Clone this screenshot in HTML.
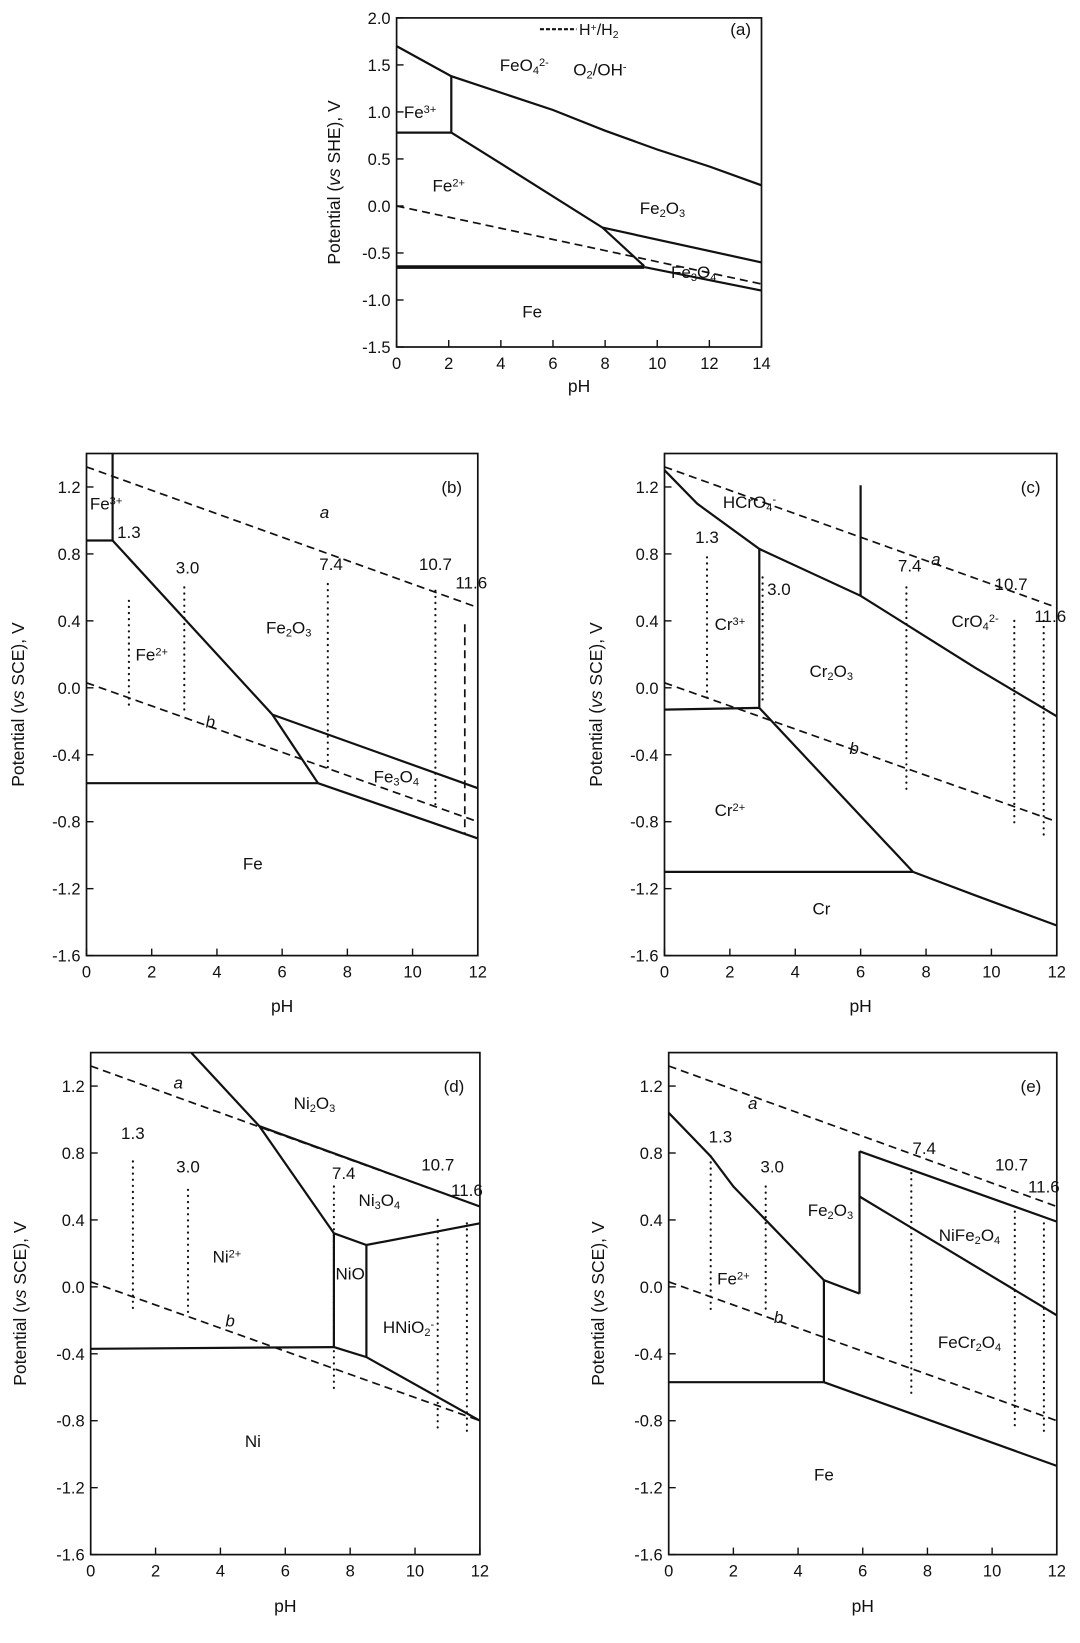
<!DOCTYPE html>
<html><head><meta charset="utf-8"><style>
html,body{margin:0;padding:0;background:#fff;}
svg{display:block;font-family:"Liberation Sans",Arial,sans-serif;}
</style></head><body>
<svg id="fig" width="1080" height="1643" viewBox="0 0 1080 1643" xmlns="http://www.w3.org/2000/svg"></svg>
<script>
// ---------- panel (a) data ----------
const aSolid = [
  [[0,1.7],[2.1,1.38],[6,1.02],[8,0.8],[10,0.6],[12,0.42],[14,0.22]],
  [[2.1,1.38],[2.1,0.78]],
  [[0,0.78],[2.1,0.78]],
  [[2.1,0.78],[4,0.45],[7.9,-0.23],[9.5,-0.64]],
  [[7.9,-0.23],[14,-0.6]],
  [[9.5,-0.65],[14,-0.9]]
];
const aThick = [[[0,-0.65],[9.5,-0.65]]];
const aDashed = [[[0,0],[14,-0.83]]];
const aLabels = [["FeO_{4}^{2-}",4.9,1.5],["O_{2}/OH^{-}",7.8,1.45],["(a)",13.2,1.88],["Fe^{3+}",0.9,1.0],
  ["Fe^{2+}",2.0,0.22],["Fe_{2}O_{3}",10.2,-0.02],["Fe_{3}O_{4}",11.4,-0.7],["Fe",5.2,-1.12]];
// ---------- panel (b) data ----------
const bSolid = [
  [[0.8,1.4],[0.8,0.88]],[[0,0.88],[0.8,0.88]],
  [[0.8,0.88],[5.7,-0.16],[7.1,-0.57]],[[5.7,-0.16],[12,-0.6]],
  [[0,-0.57],[7.1,-0.57]],[[7.1,-0.57],[12,-0.9]]
];
const bDashed = [[[0,1.32],[12,0.48]],[[0,0.03],[12,-0.8]],[[11.6,0.38],[11.6,-0.87]]];
const bDotted = [[[1.3,0.52],[1.3,-0.12]],[[3.0,0.6],[3.0,-0.15]],[[7.4,0.62],[7.4,-0.5]],[[10.7,0.58],[10.7,-0.7]]];
const bLabels = [["Fe^{3+}",0.6,1.1],["1.3",1.3,0.93],["3.0",3.1,0.72],["7.4",7.5,0.74],["10.7",10.7,0.74],["11.6",11.8,0.63],
  ["a",7.3,1.05],["b",3.8,-0.2],["(b)",11.2,1.2],["Fe_{2}O_{3}",6.2,0.36],["Fe^{2+}",2.0,0.2],["Fe_{3}O_{4}",9.5,-0.53],["Fe",5.1,-1.05]];
// ---------- panel (c) data ----------
const cSolid = [
  [[0,1.3],[1,1.1],[2.9,0.83],[6,0.55],[9.5,0.12],[12,-0.17]],
  [[6,0.55],[6,1.21]],[[2.9,0.83],[2.9,-0.12]],
  [[0,-0.13],[2.9,-0.12]],[[2.9,-0.12],[7.6,-1.1]],
  [[0,-1.1],[7.6,-1.1]],[[7.6,-1.1],[9.5,-1.24],[12,-1.42]]
];
const cDashed = [[[0,1.32],[12,0.48]],[[0,0.03],[12,-0.8]]];
const cDotted = [[[1.3,0.78],[1.3,-0.08]],[[3.0,0.66],[3.0,-0.1]],[[7.4,0.6],[7.4,-0.62]],[[10.7,0.4],[10.7,-0.83]],[[11.6,0.4],[11.6,-0.9]]];
const cLabels = [["HCrO_{4}^{-}",2.6,1.11],["CrO_{4}^{2-}",9.5,0.4],["Cr^{3+}",2.0,0.38],["Cr_{2}O_{3}",5.1,0.1],["Cr^{2+}",2.0,-0.73],
  ["Cr",4.8,-1.32],["1.3",1.3,0.9],["3.0",3.5,0.59],["7.4",7.5,0.73],["10.7",10.6,0.62],["11.6",11.8,0.43],["a",8.3,0.77],["b",5.8,-0.36],["(c)",11.2,1.2]];
// ---------- panel (d) data ----------
const dSolid = [
  [[3.1,1.4],[5.2,0.96],[7.5,0.32]],[[5.2,0.96],[12,0.48]],
  [[7.5,0.32],[8.5,0.25],[12,0.38]],[[7.5,0.32],[7.5,-0.36]],[[8.5,0.25],[8.5,-0.42]],
  [[0,-0.37],[7.5,-0.36]],[[7.5,-0.36],[8.5,-0.42],[12,-0.8]]
];
const dDashed = [[[0,1.32],[12,0.48]],[[0,0.03],[12,-0.8]]];
const dDotted = [[[1.3,0.75],[1.3,-0.13]],[[3.0,0.58],[3.0,-0.15]],[[7.5,0.6],[7.5,-0.62]],[[10.7,0.4],[10.7,-0.85]],[[11.6,0.38],[11.6,-0.88]]];
const dLabels = [["Ni_{2}O_{3}",6.9,1.1],["Ni_{3}O_{4}",8.9,0.52],["Ni^{2+}",4.2,0.18],["NiO",8.0,0.08],["HNiO_{2}^{-}",9.8,-0.24],
  ["Ni",5.0,-0.92],["1.3",1.3,0.92],["3.0",3.0,0.72],["7.4",7.8,0.68],["10.7",10.7,0.73],["11.6",11.6,0.58],["a",2.7,1.22],["b",4.3,-0.2],["(d)",11.2,1.2]];
// ---------- panel (e) data ----------
const eSolid = [
  [[0,1.04],[1.3,0.78],[2,0.6],[4.8,0.04],[5.9,-0.04]],
  [[4.8,0.04],[4.8,-0.57]],[[5.9,-0.04],[5.9,0.81]],
  [[5.9,0.81],[12,0.39]],[[5.9,0.54],[12,-0.17]],
  [[0,-0.57],[4.8,-0.57]],[[4.8,-0.57],[12,-1.07]]
];
const eDashed = [[[0,1.32],[12,0.48]],[[0,0.03],[12,-0.8]]];
const eDotted = [[[1.3,0.78],[1.3,-0.14]],[[3.0,0.6],[3.0,-0.14]],[[7.5,0.68],[7.5,-0.64]],[[10.7,0.45],[10.7,-0.84]],[[11.6,0.38],[11.6,-0.88]]];
const eLabels = [["Fe_{2}O_{3}",5.0,0.46],["NiFe_{2}O_{4}",9.3,0.31],["Fe^{2+}",2.0,0.05],["FeCr_{2}O_{4}",9.3,-0.33],["Fe",4.8,-1.12],
  ["1.3",1.6,0.9],["3.0",3.2,0.72],["7.4",7.9,0.83],["10.7",10.6,0.73],["11.6",11.6,0.6],["a",2.6,1.1],["b",3.4,-0.18],["(e)",11.2,1.2]];

const NS = "http://www.w3.org/2000/svg";
const svg = document.getElementById('fig');
function mk(tag, attrs, parent){
  const e = document.createElementNS(NS, tag);
  for (const k in attrs) e.setAttribute(k, attrs[k]);
  (parent||svg).appendChild(e);
  return e;
}
function richText(g, str, x, y, size, anchor){
  const t = mk('text', {x:x, y:y, 'font-size':size, 'text-anchor':anchor||'middle', fill:'#111'}, g);
  
  
  const re = /([_^])\{([^}]*)\}|([^_^]+)/g; let m;
  while ((m = re.exec(str))){
    const ts = document.createElementNS(NS, 'tspan');
    if (m[3]) { ts.textContent = m[3]; }
    else {
      ts.textContent = m[2];
      ts.setAttribute('font-size', size*0.65);
      ts.setAttribute('baseline-shift', m[1]==='_' ? '-30%' : '45%');
    }
    if (str === 'a' || str === 'b') t.setAttribute('font-style', 'italic');
    t.appendChild(ts);
  }
  return t;
}

const panels = [
  {id:'a', L:396.6, T:17.9, R:761.5, B:347, x0:0, x1:14, y0:-1.5, y1:2.0, xstep:2, ytk:[-1.5,-1.0,-0.5,0,0.5,1.0,1.5,2.0], ref:'SHE',
   solid:aSolid, thick:aThick, dashed:aDashed, dotted:[], labels:aLabels, ytitleX:340, xtitleY:392},
  {id:'b', L:86.5, T:453.5, R:477.8, B:955.6, x0:0, x1:12, y0:-1.6, y1:1.4, xstep:2, ytk:[-1.6,-1.2,-0.8,-0.4,0,0.4,0.8,1.2], ref:'SCE',
   solid:bSolid, thick:[], dashed:bDashed, dotted:bDotted, labels:bLabels, ytitleX:24, xtitleY:1012},
  {id:'c', L:664.5, T:453.5, R:1056.8, B:955.6, x0:0, x1:12, y0:-1.6, y1:1.4, xstep:2, ytk:[-1.6,-1.2,-0.8,-0.4,0,0.4,0.8,1.2], ref:'SCE',
   solid:cSolid, thick:[], dashed:cDashed, dotted:cDotted, labels:cLabels, ytitleX:602, xtitleY:1012},
  {id:'d', L:90.7, T:1052.6, R:479.9, B:1554.6, x0:0, x1:12, y0:-1.6, y1:1.4, xstep:2, ytk:[-1.6,-1.2,-0.8,-0.4,0,0.4,0.8,1.2], ref:'SCE',
   solid:dSolid, thick:[], dashed:dDashed, dotted:dDotted, labels:dLabels, ytitleX:26, xtitleY:1612},
  {id:'e', L:668.7, T:1052.6, R:1056.8, B:1554.6, x0:0, x1:12, y0:-1.6, y1:1.4, xstep:2, ytk:[-1.6,-1.2,-0.8,-0.4,0,0.4,0.8,1.2], ref:'SCE',
   solid:eSolid, thick:[], dashed:eDashed, dotted:eDotted, labels:eLabels, ytitleX:604, xtitleY:1612}
];

panels.forEach(p => {
  const sx = v => p.L + (v - p.x0) / (p.x1 - p.x0) * (p.R - p.L);
  const sy = v => p.B - (v - p.y0) / (p.y1 - p.y0) * (p.B - p.T);
  const g = mk('g', {});
  
  
  const pts = arr => arr.map(q => sx(q[0]).toFixed(1) + ',' + sy(q[1]).toFixed(1)).join(' ');
  const drawSet = (set, style, nm) => set.forEach(line => {
    const pl = mk('polyline', Object.assign({points: pts(line), fill:'none', stroke:'#111'}, style), g);
    
    
  });
  drawSet(p.dotted, {'stroke-width':2.2, 'stroke-dasharray':'0.1,6', 'stroke-linecap':'round'}, 'ph-marker-line');
  drawSet(p.dashed, {'stroke-width':1.7, 'stroke-dasharray':'8,5'}, 'water-stability-line');
  drawSet(p.solid, {'stroke-width':2.2}, 'phase-boundary');
  drawSet(p.thick, {'stroke-width':3.6}, 'phase-boundary');
  const fr = mk('rect', {x:p.L, y:p.T, width:p.R-p.L, height:p.B-p.T, fill:'none', stroke:'#111', 'stroke-width':1.7}, g);
  
  
  for (let v = p.x0; v <= p.x1 + 1e-9; v += p.xstep){
    const X = sx(v);
    mk('line', {x1:X, x2:X, y1:p.B, y2:p.B-7, stroke:'#111', 'stroke-width':1.4}, g);
    const t = mk('text', {x:X, y:p.B+22, 'font-size':16.5, 'text-anchor':'middle', fill:'#111'}, g);
    
    
    t.textContent = v;
  }
  p.ytk.forEach(v => {
    const Y = sy(v);
    mk('line', {x1:p.L, x2:p.L+7, y1:Y, y2:Y, stroke:'#111', 'stroke-width':1.4}, g);
    const t = mk('text', {x:p.L-6, y:Y+6, 'font-size':16.5, 'text-anchor':'end', fill:'#111'}, g);
    
    
    t.textContent = v.toFixed(1);
  });
  const xt = mk('text', {x:(p.L+p.R)/2, y:p.xtitleY, 'font-size':17.5, 'text-anchor':'middle', fill:'#111'}, g);
  
  
  xt.textContent = 'pH';
  const cy = (p.T+p.B)/2;
  const yt = mk('text', {x:p.ytitleX, y:cy, 'font-size':17.5, 'text-anchor':'middle', fill:'#111', transform:'rotate(-90 '+p.ytitleX+' '+cy+')'}, g);
  
  
  yt.innerHTML = 'Potential (<tspan font-style="italic">vs</tspan> ' + p.ref + '), V';
  p.labels.forEach(l => richText(g, l[0], sx(l[1]), sy(l[2]) + 6, 17, 'middle'));
  if (p.id === 'a'){
    const lg = mk('line', {x1:sx(5.5), x2:sx(6.9), y1:sy(1.88), y2:sy(1.88), stroke:'#111', 'stroke-width':2.2, 'stroke-dasharray':'4,2'}, g);
    
    
    richText(g, 'H^{+}/H_{2}', sx(7.0), sy(1.88)+6, 16, 'start');
  }
});
</script>
</body></html>
